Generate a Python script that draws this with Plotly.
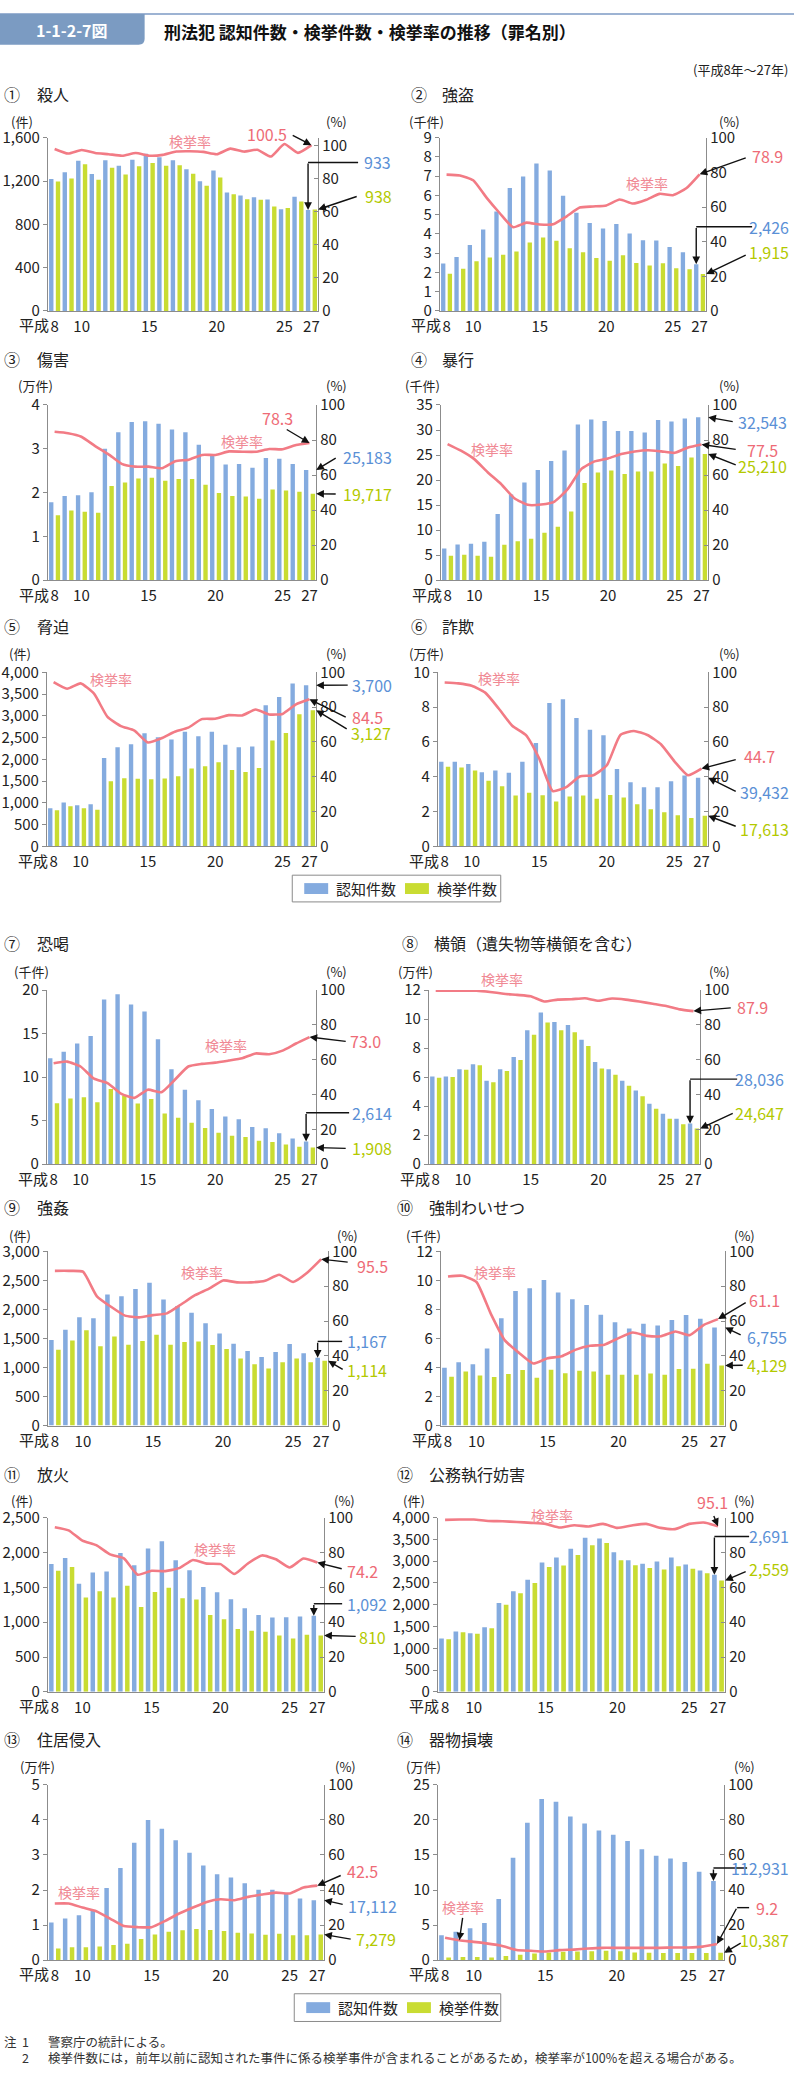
import plotly.graph_objects as go

W, H = 796, 2077
FONT = "Noto Sans CJK JP"

# ---------------- data ----------------
years = [8, 9, 10, 11, 12, 13, 14, 15, 16, 17, 18, 19, 20, 21, 22, 23, 24, 25, 26, 27]
tick_years = [8, 10, 15, 20, 25, 27]
tick_labels = ["8", "10", "15", "20", "25", "27"]
era_label = "平成"
rate_ticks = [0, 20, 40, 60, 80, 100]
legend_names = ["認知件数", "検挙件数"]
rate_name = "検挙率"

murder_known = [1218, 1282, 1388, 1265, 1391, 1340, 1396, 1452, 1419, 1392, 1309, 1199, 1297, 1094, 1067, 1051, 1030, 939, 1054, 933]
murder_cleared = [1196, 1223, 1355, 1211, 1322, 1261, 1336, 1366, 1342, 1345, 1267, 1156, 1232, 1077, 1031, 1027, 964, 950, 1010, 938]
murder_rate = [98.2, 95.4, 97.6, 95.7, 95.0, 94.1, 95.7, 94.1, 94.6, 96.6, 96.8, 96.4, 95.0, 98.4, 96.6, 97.7, 93.6, 101.2, 95.8, 100.5]

robbery_known = [2463, 2809, 3426, 4237, 5173, 6393, 6984, 7664, 7295, 5988, 5108, 4567, 4278, 4512, 4029, 3673, 3658, 3324, 3056, 2426]
robbery_cleared = [1939, 2198, 2584, 2773, 2915, 3085, 3561, 3821, 3650, 3264, 3047, 2753, 2606, 2900, 2497, 2359, 2474, 2222, 2164, 1915]
robbery_rate = [78.7, 78.2, 75.4, 65.4, 56.4, 48.3, 51.0, 49.9, 50.0, 54.5, 59.7, 60.3, 60.9, 64.3, 62.0, 64.2, 67.6, 66.8, 70.8, 78.9]

injury_known = [17800, 19200, 19400, 20100, 30000, 33800, 36100, 36300, 35700, 34400, 33800, 30900, 28400, 26400, 26500, 25700, 27900, 27700, 26500, 25183]
injury_cleared = [14800, 15900, 15600, 15400, 21500, 22300, 23200, 23400, 22700, 23100, 23100, 21800, 19900, 19200, 19100, 18600, 20700, 20500, 20200, 19717]
injury_rate = [84.7, 83.9, 81.9, 76.7, 72.0, 66.4, 64.8, 64.8, 63.9, 67.9, 68.8, 71.5, 71.5, 73.5, 73.3, 73.3, 74.9, 74.7, 77.1, 78.3]

assault_known = [6330, 7130, 7270, 7670, 13200, 17100, 19500, 22000, 23800, 25900, 31100, 32100, 31800, 29800, 29800, 29500, 32000, 31700, 32300, 32543]
assault_cleared = [4900, 5100, 4900, 4700, 7100, 7800, 8300, 9500, 10700, 13700, 19400, 21500, 21900, 21200, 21700, 21700, 23300, 22800, 24500, 25210]
assault_rate = [77.7, 73.9, 69.1, 61.6, 54.9, 46.8, 43.0, 43.2, 44.9, 52.1, 63.4, 67.8, 69.5, 72.0, 73.5, 74.2, 73.5, 72.7, 75.8, 77.5]

intimidation_known = [879, 1008, 947, 970, 2030, 2280, 2348, 2598, 2508, 2455, 2636, 2530, 2636, 2333, 2280, 2295, 3242, 3432, 3740, 3700]
intimidation_cleared = [833, 924, 879, 841, 1500, 1568, 1553, 1545, 1560, 1614, 1788, 1841, 1932, 1758, 1712, 1803, 2432, 2606, 3038, 3127]
intimidation_rate = [94.3, 90.5, 93.6, 87.7, 74.4, 69.1, 66.5, 59.7, 62.1, 65.9, 68.2, 73.1, 73.3, 75.4, 75.2, 78.6, 75.8, 76.1, 81.6, 84.5]

fraud_known = [48700, 48700, 47400, 42600, 43600, 42300, 48700, 59400, 82300, 84500, 73800, 67000, 63800, 44500, 36800, 34000, 34000, 37500, 40800, 39432]
fraud_cleared = [45700, 45300, 43600, 37700, 34500, 29200, 30800, 29400, 25800, 28700, 29200, 27400, 29600, 28100, 24200, 21300, 19600, 17900, 16400, 17613]
fraud_rate = [94.1, 93.6, 92.2, 88.3, 79.2, 69.3, 64.0, 50.4, 31.8, 34.1, 40.2, 40.9, 46.6, 64.0, 66.3, 64.0, 58.7, 48.9, 40.9, 44.7]

extortion_known = [12160, 12900, 13860, 14730, 18900, 19500, 18330, 17540, 14360, 10900, 8560, 7350, 6330, 5490, 5150, 4280, 4130, 3560, 2950, 2614]
extortion_cleared = [7000, 7540, 7690, 7120, 8640, 7880, 6970, 7500, 5830, 5340, 4770, 4170, 3600, 3260, 3140, 2690, 2540, 2270, 2000, 1908]
extortion_rate = [58.0, 58.9, 56.1, 49.1, 46.6, 40.5, 38.1, 42.8, 41.3, 48.5, 56.1, 57.6, 58.3, 59.5, 60.8, 63.6, 63.1, 65.2, 69.3, 73.0]

embezzle_known = [60500, 60500, 65500, 68900, 57500, 65500, 73900, 92300, 104500, 98000, 95900, 85700, 70500, 65500, 57500, 50700, 41600, 34800, 31400, 28036]
embezzle_cleared = [59500, 60000, 65000, 68200, 56400, 64300, 71800, 89100, 97700, 92300, 90900, 81400, 65900, 61600, 54100, 46800, 38200, 31400, 27500, 24647]
embezzle_rate = [99.6, 99.6, 99.6, 99.6, 98.9, 97.9, 97.2, 96.4, 93.4, 94.5, 94.7, 95.3, 93.8, 95.1, 94.5, 93.4, 92.1, 90.8, 88.9, 87.9]

rape_known = [1472, 1648, 1864, 1847, 2256, 2227, 2352, 2460, 2170, 2057, 1943, 1761, 1585, 1409, 1284, 1182, 1267, 1403, 1244, 1167]
rape_cleared = [1307, 1466, 1642, 1364, 1534, 1392, 1455, 1563, 1392, 1438, 1449, 1386, 1318, 1153, 1057, 983, 1091, 1153, 1091, 1114]
rape_rate = [88.8, 88.8, 88.3, 74.2, 68.2, 63.1, 62.1, 63.4, 64.4, 69.5, 74.8, 78.6, 83.3, 82.2, 82.2, 83.1, 86.6, 82.4, 87.7, 95.5]

indecent_known = [3980, 4360, 4230, 5300, 7390, 9270, 9450, 10020, 9160, 8700, 8300, 7640, 7110, 6680, 7020, 6890, 7270, 7610, 7360, 6755]
indecent_cleared = [3360, 3730, 3450, 3340, 3550, 3820, 3300, 3840, 3610, 3770, 3730, 3500, 3500, 3500, 3590, 3500, 3890, 3910, 4250, 4129]
indecent_rate = [85.6, 86.0, 82.4, 64.4, 48.9, 41.7, 35.6, 38.6, 39.8, 43.6, 45.8, 46.4, 50.2, 53.4, 51.5, 51.3, 54.0, 51.9, 57.8, 61.1]

arson_known = [1835, 1920, 1552, 1712, 1726, 1991, 1816, 2057, 2160, 1887, 1745, 1505, 1429, 1330, 1198, 1104, 1066, 1071, 1080, 1092]
arson_cleared = [1736, 1792, 1354, 1443, 1354, 1524, 1217, 1434, 1495, 1344, 1325, 1104, 1042, 901, 877, 863, 807, 764, 821, 810]
arson_rate = [94.5, 92.7, 86.8, 84.2, 78.9, 76.6, 67.2, 69.5, 69.3, 71.0, 75.7, 73.6, 73.3, 67.6, 73.8, 78.3, 76.1, 71.4, 76.5, 74.2]

obstruct_known = [1227, 1386, 1348, 1485, 2038, 2311, 2576, 2970, 3083, 3288, 3538, 3523, 3205, 3023, 2939, 2992, 3083, 2924, 2788, 2691]
obstruct_cleared = [1205, 1371, 1333, 1462, 2000, 2265, 2500, 2864, 2902, 3144, 3364, 3417, 3023, 2909, 2841, 2811, 2886, 2826, 2720, 2559]
obstruct_rate = [98.7, 98.9, 98.9, 98.1, 97.9, 97.5, 97.0, 96.4, 94.3, 95.6, 94.9, 96.4, 94.1, 95.5, 96.4, 94.1, 93.4, 96.4, 97.2, 95.1]

trespass_known = [10700, 11900, 12800, 14000, 20600, 26300, 33500, 40000, 37500, 34200, 30600, 27000, 24500, 23600, 21900, 20100, 20100, 19000, 17600, 17112]
trespass_cleared = [3300, 3700, 3700, 3900, 4300, 4700, 6000, 7300, 8100, 8500, 8900, 8600, 8300, 7800, 7600, 7200, 7500, 7100, 7100, 7279]
trespass_rate = [32.3, 32.3, 30.0, 27.9, 23.7, 19.4, 18.8, 18.8, 22.4, 26.6, 30.0, 33.2, 34.7, 34.2, 36.1, 37.4, 38.5, 38.0, 41.4, 42.5]

damage_known = [35500, 40300, 45500, 53000, 87200, 146000, 196000, 230000, 226000, 205000, 195000, 185000, 179000, 170000, 158000, 149000, 145000, 140000, 126000, 112931]
damage_cleared = [3800, 4300, 4300, 3800, 5700, 7600, 9500, 10900, 11800, 12300, 12800, 13300, 12800, 10900, 10400, 10000, 10000, 10000, 10000, 10387]
damage_rate = [12.8, 11.3, 10.4, 9.4, 8.1, 5.8, 5.3, 4.9, 5.7, 6.0, 6.6, 7.0, 7.0, 7.0, 7.0, 7.0, 7.2, 7.2, 7.7, 9.2]

# ---------------- styles ----------------
BLUE = "#84ABDF"
GREEN = "#C9DC32"
LINE = "#F27B85"
BLUE_T = "#5A90D6"
GREEN_T = "#B3C900"
RED_T = "#EE6B76"
PINK_T = "#F08893"
AX = "#8C8C8C"
TXT = "#222222"
ARROW = "#111111"
VAL_SIZE = 16

panels = [
    dict(num="①", name="殺人", unit="(件)", div=1, ymax=1600, dtick=400, y2max=105,
         known=murder_known, cleared=murder_cleared, rate=murder_rate,
         box=(48, 319, 127, 302), title=(2, 35, 83), units=(22, 337, 111), rname=(190, 130),
         labels=[dict(kind="rate", pos=(268, 123), tail=(292, 124)),
                 dict(kind="known", pos=(378, 152), seg=(359, 152)),
                 dict(kind="cleared", pos=(379, 186), tail=(359, 186))]),
    dict(num="②", name="強盗", unit="(千件)", div=1000, ymax=9, dtick=1, y2max=100,
         known=robbery_known, cleared=robbery_cleared, rate=robbery_rate,
         box=(441, 708, 127, 302), title=(410, 441, 83), units=(428, 731, 111), rname=(649, 173),
         labels=[dict(kind="rate", pos=(769, 145), tail=(749, 147)),
                 dict(kind="known", pos=(774, 217), seg=(754, 217)),
                 dict(kind="cleared", pos=(774, 242), tail=(749, 245))]),
    dict(num="③", name="傷害", unit="(万件)", div=10000, ymax=4, dtick=1, y2max=100,
         known=injury_known, cleared=injury_cleared, rate=injury_rate,
         box=(48, 317, 397, 574), title=(2, 35, 351), units=(36, 337, 377), rname=(243, 433),
         labels=[dict(kind="rate", pos=(278, 410), tail=(286, 421)),
                 dict(kind="known", pos=(368, 450), tail=(338, 450)),
                 dict(kind="cleared", pos=(368, 487), tail=(338, 487))]),
    dict(num="④", name="暴行", unit="(千件)", div=1000, ymax=35, dtick=5, y2max=100,
         known=assault_known, cleared=assault_cleared, rate=assault_rate,
         box=(442, 710, 397, 574), title=(410, 441, 351), units=(424, 731, 377), rname=(493, 441),
         labels=[dict(kind="known", pos=(764, 414), tail=(736, 414)),
                 dict(kind="rate", pos=(764, 442), tail=(739, 442)),
                 dict(kind="cleared", pos=(764, 459), tail=(739, 458))]),
    dict(num="⑤", name="脅迫", unit="(件)", div=1, ymax=4000, dtick=500, y2max=100,
         known=intimidation_known, cleared=intimidation_cleared, rate=intimidation_rate,
         box=(47, 317, 667, 843), title=(2, 35, 620), units=(20, 337, 648), rname=(111, 674),
         labels=[dict(kind="known", pos=(373, 680), tail=(350, 680)),
                 dict(kind="rate", pos=(368, 712), tail=(348, 713)),
                 dict(kind="cleared", pos=(372, 728), tail=(349, 725))]),
    dict(num="⑥", name="詐欺", unit="(万件)", div=10000, ymax=10, dtick=2, y2max=100,
         known=fraud_known, cleared=fraud_cleared, rate=fraud_rate,
         box=(439, 710, 667, 843), title=(410, 441, 620), units=(428, 731, 648), rname=(500, 673),
         labels=[dict(kind="rate", pos=(761, 752), tail=(739, 755)),
                 dict(kind="known", pos=(769, 788), tail=(739, 788)),
                 dict(kind="cleared", pos=(769, 825), tail=(739, 823))]),
    dict(num="⑦", name="恐喝", unit="(千件)", div=1000, ymax=20, dtick=5, y2max=100,
         known=extortion_known, cleared=extortion_cleared, rate=extortion_rate,
         box=(47, 317, 988, 1164), title=(2, 35, 941), units=(32, 337, 969), rname=(227, 1044),
         labels=[dict(kind="rate", pos=(366, 1040), tail=(348, 1040)),
                 dict(kind="known", pos=(373, 1112), seg=(350, 1112)),
                 dict(kind="cleared", pos=(373, 1148), tail=(348, 1148))]),
    dict(num="⑧", name="横領（遺失物等横領を含む）", unit="(万件)", div=10000, ymax=12, dtick=2, y2max=100,
         known=embezzle_known, cleared=embezzle_cleared, rate=embezzle_rate,
         box=(430, 702, 988, 1164), title=(401, 433, 941), units=(417, 721, 969), rname=(503, 977),
         labels=[dict(kind="rate", pos=(754, 1005), tail=(734, 1006)),
                 dict(kind="known", pos=(761, 1078), seg=(739, 1078)),
                 dict(kind="cleared", pos=(761, 1112), tail=(736, 1112))]),
    dict(num="⑨", name="強姦", unit="(件)", div=1, ymax=3000, dtick=500, y2max=100,
         known=rape_known, cleared=rape_cleared, rate=rape_rate,
         box=(48, 329, 1252, 1428), title=(2, 35, 1207), units=(20, 348, 1236), rname=(203, 1273),
         labels=[dict(kind="rate", pos=(373, 1267), tail=(350, 1263)),
                 dict(kind="known", pos=(368, 1343), seg=(343, 1343)),
                 dict(kind="cleared", pos=(368, 1372), tail=(345, 1372))]),
    dict(num="⑩", name="強制わいせつ", unit="(千件)", div=1000, ymax=12, dtick=2, y2max=100,
         known=indecent_known, cleared=indecent_cleared, rate=indecent_rate,
         box=(442, 727, 1252, 1428), title=(396, 428, 1207), units=(425, 746, 1236), rname=(496, 1273),
         labels=[dict(kind="rate", pos=(766, 1301), tail=(749, 1303)),
                 dict(kind="known", pos=(769, 1339), tail=(744, 1337)),
                 dict(kind="cleared", pos=(769, 1367), tail=(746, 1367))]),
    dict(num="⑪", name="放火", unit="(件)", div=1, ymax=2500, dtick=500, y2max=100,
         known=arson_known, cleared=arson_cleared, rate=arson_rate,
         box=(48, 325, 1521, 1697), title=(2, 35, 1477), units=(22, 345, 1504), rname=(216, 1553),
         labels=[dict(kind="rate", pos=(363, 1575), tail=(344, 1573)),
                 dict(kind="known", pos=(368, 1608), seg=(343, 1608)),
                 dict(kind="cleared", pos=(373, 1642), tail=(358, 1641))]),
    dict(num="⑫", name="公務執行妨害", unit="(件)", div=1, ymax=4000, dtick=500, y2max=100,
         known=obstruct_known, cleared=obstruct_cleared, rate=obstruct_rate,
         box=(439, 727, 1521, 1697), title=(396, 428, 1477), units=(415, 746, 1504), rname=(553, 1518),
         labels=[dict(kind="rate", pos=(714, 1505), tail=(715, 1518)),
                 dict(kind="known", pos=(774, 1540), seg=(751, 1540)),
                 dict(kind="cleared", pos=(774, 1573), tail=(749, 1575))]),
    dict(num="⑬", name="住居侵入", unit="(万件)", div=10000, ymax=5, dtick=1, y2max=100,
         known=trespass_known, cleared=trespass_cleared, rate=trespass_rate,
         box=(48, 325, 1791, 1968), title=(2, 35, 1745), units=(38, 346, 1772), rname=(79, 1899),
         labels=[dict(kind="rate", pos=(363, 1878), tail=(343, 1882)),
                 dict(kind="known", pos=(373, 1913), tail=(345, 1912)),
                 dict(kind="cleared", pos=(377, 1947), tail=(353, 1947))]),
    dict(num="⑭", name="器物損壊", unit="(万件)", div=10000, ymax=25, dtick=5, y2max=100,
         known=damage_known, cleared=damage_cleared, rate=damage_rate,
         box=(439, 726, 1791, 1968), title=(396, 428, 1745), units=(425, 746, 1772), rname=(464, 1914),
         rname_arrow=dict(year_index=1, tail=(464, 1924)),
         labels=[dict(kind="known", pos=(764, 1875), seg=(749, 1875)),
                 dict(kind="rate", pos=(769, 1915), seg=(751, 1915), tail=(739, 1915)),
                 dict(kind="cleared", pos=(769, 1948), tail=(744, 1950))]),
]


def PX(x):
    return x / W


def PY(y):
    return 1 - y / H


fig = go.Figure()
annotations = []
shapes = []
axes = {}


def text_ann(txt, x, y, size, color=TXT, xanchor="center", bold=False):
    annotations.append(dict(text=(f"<b>{txt}</b>" if bold else txt), x=PX(x), y=PY(y), xref="paper", yref="paper",
                            xanchor=xanchor, yanchor="middle", showarrow=False,
                            font=dict(family=FONT, size=size, color=color)))


def value_ann(txt, x, y, color):
    # keep value labels inside the page: estimate width, clamp right edge
    w = sum((0.27 if ch in ",." else 0.56) for ch in txt) * VAL_SIZE
    if x + w / 2 > 793:
        text_ann(txt, 793, y, VAL_SIZE, color=color, xanchor="right")
    else:
        text_ann(txt, x, y, VAL_SIZE, color=color)


def arrow(xref, yref, hx, hy, head_px, tail_px):
    annotations.append(dict(text="", x=hx, y=hy, xref=xref, yref=yref,
                            ax=tail_px[0] - head_px[0], ay=tail_px[1] - head_px[1],
                            axref="pixel", ayref="pixel", showarrow=True,
                            arrowhead=2, arrowsize=1.1, arrowwidth=1.4, arrowcolor=ARROW,
                            standoff=0, startstandoff=0))


def hline(x0, x1, y):
    shapes.append(dict(type="line", xref="paper", yref="paper", x0=PX(x0), x1=PX(x1), y0=PY(y), y1=PY(y),
                       line=dict(color=ARROW, width=1.4)))


for k, p in enumerate(panels, start=1):
    xid = "x" if k == 1 else f"x{k}"
    a, b = 2 * k - 1, 2 * k
    yid = "y" if a == 1 else f"y{a}"
    y2id = f"y{b}"
    L, R, T, B = p["box"]
    div = p["div"]
    known = [v / div for v in p["known"]]
    cleared = [v / div for v in p["cleared"]]

    fig.add_trace(go.Bar(x=years, y=known, marker=dict(color=BLUE, line=dict(width=0)),
                         xaxis=xid, yaxis=yid, showlegend=False, name=legend_names[0]))
    fig.add_trace(go.Bar(x=years, y=cleared, marker=dict(color=GREEN, line=dict(width=0)),
                         xaxis=xid, yaxis=yid, showlegend=False, name=legend_names[1]))
    fig.add_trace(go.Scatter(x=years, y=p["rate"], mode="lines",
                             line=dict(color=LINE, width=2.6, shape="spline", smoothing=0.5),
                             xaxis=xid, yaxis=y2id, showlegend=False, name=rate_name))

    tickfont = dict(family=FONT, size=15, color=TXT)
    axes["xaxis" + ("" if k == 1 else str(k))] = dict(
        domain=[PX(L), PX(R)], anchor=yid, range=[7.5, 27.5], tickvals=tick_years, ticktext=tick_labels,
        showline=True, linecolor=AX, linewidth=1, ticks="outside", ticklen=2, tickcolor="rgba(0,0,0,0)",
        tickfont=tickfont, showgrid=False, zeroline=False, fixedrange=True)
    axes["yaxis" + ("" if a == 1 else str(a))] = dict(
        domain=[PY(B), PY(T)], anchor=xid, range=[0, p["ymax"]], tick0=0, dtick=p["dtick"], tickformat=",",
        showline=True, linecolor=AX, linewidth=1, ticks="outside", ticklen=4, tickcolor=AX,
        tickfont=tickfont, showgrid=False, zeroline=False, fixedrange=True)
    axes["yaxis" + str(b)] = dict(
        overlaying=yid, side="right", anchor=xid, range=[0, p["y2max"]], tickvals=rate_ticks,
        showline=True, linecolor=AX, linewidth=1, ticks="inside", ticklen=4, tickcolor=AX,
        tickfont=tickfont, showgrid=False, zeroline=False, fixedrange=True)

    # era prefix for first x tick
    annotations.append(dict(text=era_label, x=tick_years[0], xref=xid, y=PY(B + 14), yref="paper",
                            xanchor="right", yanchor="middle", xshift=-4, showarrow=False,
                            font=dict(family=FONT, size=15, color=TXT)))

    # titles and units
    nx, tx, ty = p["title"]
    text_ann(p["num"], nx, ty, 16, xanchor="left")
    text_ann(p["name"], tx, ty, 16, xanchor="left")
    ux, pctx, uy = p["units"]
    text_ann(p["unit"], ux, uy, 13)
    text_ann("(%)", pctx, uy, 13)

    # rate name label
    rx, ry = p["rname"]
    text_ann(rate_name, rx, ry, 14, color=PINK_T)

    def to_px(hx, hy, side):
        px = L + (hx - 7.5) / 20.0 * (R - L)
        top = p["ymax"] if side == "y" else p["y2max"]
        py = B - hy / top * (B - T)
        return (px, py)

    if "rname_arrow" in p:
        ra = p["rname_arrow"]
        hx, hy = years[ra["year_index"]], p["rate"][ra["year_index"]]
        arrow(xid, y2id, hx, hy, to_px(hx, hy, "y2"), ra["tail"])

    for lab in p["labels"]:
        kind = lab["kind"]
        if kind == "rate":
            txt, col = f"{p['rate'][-1]:.1f}", RED_T
            hx, hy, side = years[-1], p["rate"][-1], "y2"
        elif kind == "known":
            txt, col = f"{p['known'][-1]:,}", BLUE_T
            hx, hy, side = (years[-1] - 0.25 if "tail" not in lab else years[-1] + 0.5), known[-1], "y"
        else:
            txt, col = f"{p['cleared'][-1]:,}", GREEN_T
            hx, hy, side = years[-1] + 0.5, cleared[-1], "y"
        value_ann(txt, lab["pos"][0], lab["pos"][1], col)
        head = to_px(hx, hy, side)
        if "tail" in lab:
            tail = lab["tail"]
        else:
            tail = (head[0], lab["seg"][1])
        if "seg" in lab:
            hline(lab["seg"][0], tail[0], lab["seg"][1])
        arrow(xid, y2id if side == "y2" else yid, hx, hy, head, tail)

# ---------------- header ----------------
shapes.append(dict(type="line", xref="paper", yref="paper", x0=0, x1=1, y0=PY(2), y1=PY(2),
                   line=dict(color="#9DB3D3", width=2)))
shapes.append(dict(type="path", xref="paper", yref="paper",
                   path=(f"M {PX(0)},{PY(2)} L {PX(145)},{PY(2)} L {PX(145)},{PY(27)} "
                         f"Q {PX(145)},{PY(33)} {PX(139)},{PY(33)} L {PX(0)},{PY(33)} Z"),
                   fillcolor="#7B9BC2", line=dict(width=0)))
text_ann("1-1-2-7図", 72, 18, 16, color="white", bold=True)
text_ann("刑法犯 認知件数・検挙件数・検挙率の推移（罪名別）", 162, 20, 17, color="#111", xanchor="left", bold=True)
text_ann("(平成8年～27年)", 792, 58, 13, xanchor="right")

# ---------------- legends ----------------
for (bx0, bx1, by0, by1) in [(293, 502, 872, 899), (295, 502, 2002, 2030)]:
    shapes.append(dict(type="rect", xref="paper", yref="paper", x0=PX(bx0), x1=PX(bx1), y0=PY(by1), y1=PY(by0),
                       line=dict(color="#8A8A8A", width=1), fillcolor="white"))
    cy = (by0 + by1) / 2
    for sx, col, name in [(bx0 + 12, BLUE, legend_names[0]), (bx0 + 113, GREEN, legend_names[1])]:
        shapes.append(dict(type="rect", xref="paper", yref="paper", x0=PX(sx), x1=PX(sx + 24),
                           y0=PY(cy + 5.5), y1=PY(cy - 5.5), line=dict(width=0), fillcolor=col))
        text_ann(name, sx + 30, cy, 15, xanchor="left")

# ---------------- footnotes ----------------
text_ann("注", 2, 2050, 12.5, color="#333", xanchor="left")
text_ann("1", 20, 2050, 12.5, color="#333", xanchor="left")
text_ann("警察庁の統計による。", 46, 2050, 12.5, color="#333", xanchor="left")
text_ann("2", 20, 2066, 12.5, color="#333", xanchor="left")
text_ann("検挙件数には，前年以前に認知された事件に係る検挙事件が含まれることがあるため，検挙率が100%を超える場合がある。",
         46, 2066, 12.5, color="#333", xanchor="left")

fig.update_layout(
    width=W, height=H, autosize=False,
    margin=dict(l=0, r=0, t=0, b=0),
    paper_bgcolor="white", plot_bgcolor="white",
    barmode="group", bargap=0.0, bargroupgap=0.35,
    showlegend=False,
    font=dict(family=FONT, size=14, color=TXT),
    annotations=annotations, shapes=shapes,
    **axes,
)

fig.write_html("out.html", config={"displayModeBar": False, "staticPlot": True},
               post_script="document.body.style.margin='0';document.body.style.overflow='hidden';")
